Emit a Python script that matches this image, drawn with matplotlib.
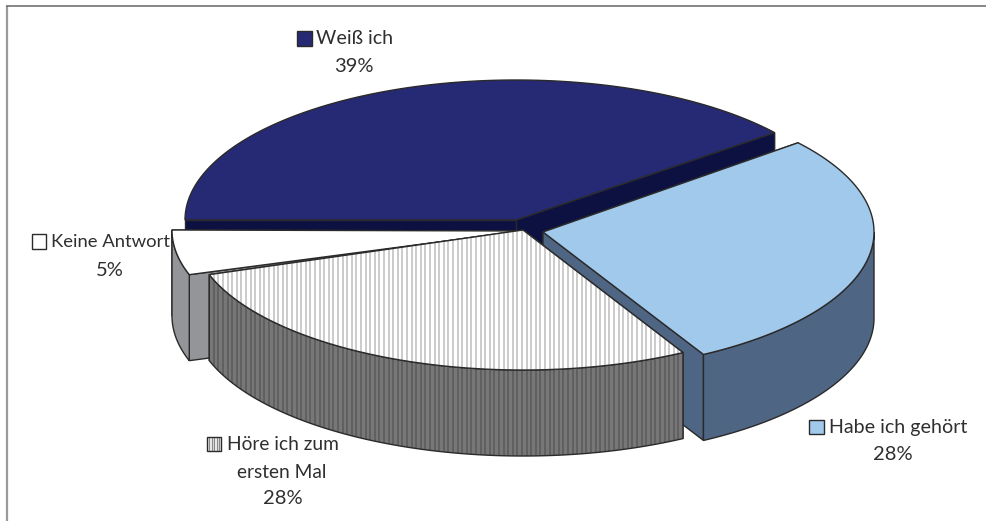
import numpy as np
import matplotlib
matplotlib.use("Agg")
import matplotlib.pyplot as plt
from matplotlib.patches import Polygon, Rectangle
from matplotlib.collections import LineCollection

# ---- data (counter-clockwise from the back right) ----
categories = ["Weiß ich", "Keine Antwort", "Höre ich zum\nersten Mal", "Habe ich gehört"]
values = [39, 5, 28, 28]
value_labels = ["39%", "5%", "28%", "28%"]

# ---- geometry / style (pixel space) ----
START = 39.6
RX, RY, DEPTH = 331, 140, 86
centers = [(516, 220), (503, 230), (523, 230), (543, 232)]
apexes = [(516, 220), (522, 231), (523, 230), (543, 232)]
nudges = [(-1.0, 0.0), (0.0, 0.6), (0.6, 0.1), (0.2, 0.0)]  # slight perspective correction
top_col = ["#262973", "#FFFFFF", "#FFFFFF", "#A1C9EC"]
side_col = ["#0D1142", "#939598", "#777777", "#4F6584"]
stripe_top = [None, None, "#BDBDBD", None]
stripe_side = [None, None, "#5A5A5A", None]
draw_order = [0, 3, 1, 2]
EDGE = "#2A2A2A"
TEXT = "#2F2F2F"

plt.rcParams["font.family"] = ["Lato", "DejaVu Sans"]
fig = plt.figure(figsize=(9.86, 5.21), dpi=100, facecolor="white")
ax = fig.add_axes([0, 0, 1, 1])
ax.set_xlim(0, 986)
ax.set_ylim(521, 0)
ax.axis("off")

# frame
ax.plot([6.7, 6.7], [6, 521], color="#9A9A9A", lw=1.6, solid_capstyle="butt")
ax.plot([6, 986], [6.3, 6.3], color="#666666", lw=1.1, solid_capstyle="butt")


def arc(c, a0, a1, dz=0.0, n=120):
    t = np.radians(np.linspace(a0, a1, n))
    return np.column_stack([c[0] + RX * np.cos(t), c[1] - RY * np.sin(t) + dz])


def shape(pts, face, stripe, z, lw=1.0):
    poly = Polygon(pts, closed=True, facecolor=face, edgecolor="none", zorder=z)
    ax.add_patch(poly)
    if stripe:
        x0, x1 = pts[:, 0].min(), pts[:, 0].max()
        y0, y1 = pts[:, 1].min(), pts[:, 1].max()
        xs = np.arange(x0, x1, 4.6)
        lc = LineCollection([[(x, y0), (x, y1)] for x in xs], colors=stripe,
                            linewidths=1.1, zorder=z)
        ax.add_collection(lc)
        lc.set_clip_path(poly)
    ax.add_patch(Polygon(pts, closed=True, fill=False, edgecolor=EDGE, lw=lw,
                         joinstyle="miter", zorder=z))


angles = START + np.concatenate([[0], np.cumsum(values)]) * 360 / sum(values)
z = 2
for i in draw_order:
    a0, a1 = angles[i] + nudges[i][0], angles[i + 1] + nudges[i][1]
    c = np.array(centers[i], float)
    apex = np.array(apexes[i], float)
    # cut faces, back one first
    for a in sorted((a0, a1), key=lambda v: -np.sin(np.radians(v))):
        p = arc(c, a, a, n=1)[0]
        face = np.array([apex, p, p + [0, DEPTH], apex + [0, DEPTH]])
        shape(face, side_col[i], None, z)
        z += 1
    # outer wall: front half only
    for k in range(-1, 3):
        s0, s1 = 180 + 360 * k, 360 + 360 * k
        l, h = max(a0, s0), min(a1, s1)
        if h > l:
            wall = np.vstack([arc(c, l, h), arc(c, h, l, DEPTH)])
            shape(wall, side_col[i], stripe_side[i], z)
            z += 1
    # top
    top = np.vstack([[apex], arc(c, a0, a1)])
    shape(top, top_col[i], stripe_top[i], z)
    z += 1

# labels: (key x, key y, text x, text y, percent x, percent y, font size)
PCT = 14.5
lab = {
    0: (297, 31, 316, 38, 354, 66, 14.1),
    1: (31.5, 234, 51, 242, 110, 270, 13.3),
    3: (809, 419.5, 829, 427, 893, 454, 14.1),
}
for i, (kx, ky, tx, ty, px, py, fs) in lab.items():
    ax.add_patch(Rectangle((kx, ky), 14.5, 14.5, facecolor=top_col[i], edgecolor=EDGE, lw=1.0, zorder=50))
    ax.text(tx, ty, categories[i], fontsize=fs, color=TEXT, va="center", ha="left", zorder=60)
    ax.text(px, py, value_labels[i], fontsize=PCT, color=TEXT, va="center", ha="center", zorder=60)

# Höre ich zum (hatched key, wrapped label)
line1, line2 = categories[2].split("\n")
key = np.array([[207, 436.5], [221, 436.5], [221, 450.5], [207, 450.5]], float)
poly = Polygon(key, closed=True, facecolor="white", edgecolor="none", zorder=50)
ax.add_patch(poly)
lc = LineCollection([[(x, 436), (x, 451)] for x in np.arange(209, 221, 2.6)],
                    colors="#8A8A8A", linewidths=1.0, zorder=51)
ax.add_collection(lc)
lc.set_clip_path(poly)
ax.add_patch(Polygon(key, closed=True, fill=False, edgecolor=EDGE, lw=1.0, zorder=52))
ax.text(227, 444, line1, fontsize=13.8, color=TEXT, va="center", ha="left", zorder=60)
ax.text(282, 472, line2, fontsize=13.8, color=TEXT, va="center", ha="center", zorder=60)
ax.text(283, 499, value_labels[2], fontsize=PCT, color=TEXT, va="center", ha="center", zorder=60)

fig.savefig("out.png", dpi=100, facecolor="white")
